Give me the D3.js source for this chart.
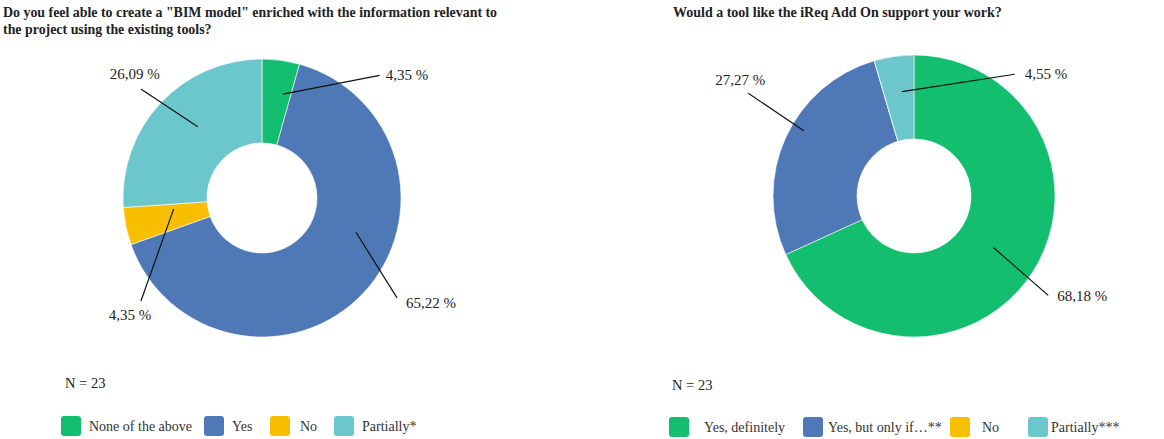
<!DOCTYPE html>
<html>
<head>
<meta charset="utf-8">
<script src="https://cdn.jsdelivr.net/npm/d3@7"></script>
<style>
  html, body { margin: 0; padding: 0; background: #fff; }
  svg { display: block; font-family: "Liberation Serif", "Times New Roman", serif; }
</style>
</head>
<body>
<svg id="chart" width="1164" height="439"></svg>
<script>
// ---------- DATA ----------
const leftTitle = ['Do you feel able to create a "BIM model" enriched with the information relevant to',
                   'the project using the existing tools?'];
const leftCategories = ["None of the above", "Yes", "No", "Partially*"];
const leftValues = [4.35, 65.22, 4.35, 26.09];
const leftLabels = ["4,35 %", "65,22 %", "4,35 %", "26,09 %"];
const leftN = "N = 23";

const rightTitle = ["Would a tool like the iReq Add On support your work?"];
const rightCategories = ["Yes, definitely", "Yes, but only if…**", "No", "Partially***"];
const rightValues = [68.18, 27.27, 0, 4.55];
const rightLabels = ["68,18 %", "27,27 %", "", "4,55 %"];
const rightN = "N = 23";

const colors = ["#13bf6f", "#4e79b6", "#f8bf00", "#6cc7cc"];

// ---------- LAYOUT ----------
// leader line start/end in polar coords (deg clockwise from top, radius), text offset
const leftLayout = {
  cx: 262, cy: 198, outer: 139, inner: 55,
  titleX: 3, titleY: 17, titleSize: 13.9, nX: 65, nY: 388,
  legendX: [61, 204, 270, 334], legendY: 416,
  legendTextDx: [28, 28, 30, 28],
  leaders: [
    { a0: 11.4, r0: 106, a1: 43.8, r1: 170, tx: 6, ty: 5, anchor: "start" },
    { a0: 110, r0: 100, a1: 126.5, r1: 168, tx: 9, ty: 10, anchor: "start" },
    { a0: 263, r0: 89, a1: 229.6, r1: 159, tx: -11, ty: 19, anchor: "middle" },
    { a0: 318, r0: 96, a1: 312, r1: 163, tx: -6, ty: -10, anchor: "middle" }
  ]
};
const rightLayout = {
  cx: 914, cy: 196, outer: 141, inner: 57,
  titleX: 673, titleY: 17, titleSize: 14, nX: 672, nY: 390,
  legendX: [669, 803, 950, 1028], legendY: 417,
  legendTextDx: [35, 25, 32, 23],
  leaders: [
    { a0: 123, r0: 95, a1: 126.5, r1: 167, tx: 9, ty: 6, anchor: "start" },
    { a0: 300.6, r0: 128, a1: 301.8, r1: 195, tx: -8, ty: -8, anchor: "middle" },
    null,
    { a0: 353.4, r0: 105, a1: 39.6, r1: 158, tx: 10, ty: 5, anchor: "start" }
  ]
};

const svg = d3.select("#chart");

function polar(cx, cy, deg, r) {
  const a = deg * Math.PI / 180;
  return [cx + r * Math.sin(a), cy - r * Math.cos(a)];
}

function drawDonut(values, labels, categories, title, nText, L) {
  const g = svg.append("g");
  const t = g.append("text")
    .attr("x", L.titleX).attr("y", L.titleY)
    .attr("font-weight", "bold").attr("font-size", L.titleSize).attr("fill", "#222");
  title.forEach((line, i) => {
    t.append("tspan").attr("x", L.titleX).attr("dy", i === 0 ? 0 : 17).text(line);
  });

  const pie = d3.pie().sort(null).value(d => d)
    .startAngle(0).endAngle(2 * Math.PI);
  const arcs = pie(values);
  const arc = d3.arc().innerRadius(L.inner).outerRadius(L.outer);

  const cg = g.append("g").attr("transform", `translate(${L.cx},${L.cy})`);
  cg.selectAll("path").data(arcs).join("path")
    .attr("d", arc)
    .attr("fill", (d, i) => colors[i])
    .attr("stroke", "#fff").attr("stroke-width", 0.6);

  L.leaders.forEach((ld, i) => {
    if (!ld || !labels[i]) return;
    const p0 = polar(L.cx, L.cy, ld.a0, ld.r0);
    const p1 = polar(L.cx, L.cy, ld.a1, ld.r1);
    g.append("line")
      .attr("x1", p0[0]).attr("y1", p0[1]).attr("x2", p1[0]).attr("y2", p1[1])
      .attr("stroke", "#111").attr("stroke-width", 1.2);
    g.append("text")
      .attr("x", p1[0] + ld.tx).attr("y", p1[1] + ld.ty)
      .attr("text-anchor", ld.anchor)
      .attr("font-size", 15).attr("fill", "#222")
      .text(labels[i]);
  });

  g.append("text").attr("x", L.nX).attr("y", L.nY)
    .attr("font-size", 14.5).attr("fill", "#222").text(nText);

  categories.forEach((c, i) => {
    const x = L.legendX[i];
    g.append("rect")
      .attr("x", x).attr("y", L.legendY).attr("width", 20).attr("height", 20)
      .attr("rx", 3).attr("ry", 3).attr("fill", colors[i]);
    g.append("text")
      .attr("x", x + L.legendTextDx[i]).attr("y", L.legendY + 15)
      .attr("font-size", 14).attr("fill", "#333").text(c);
  });
}

drawDonut(leftValues, leftLabels, leftCategories, leftTitle, leftN, leftLayout);
drawDonut(rightValues, rightLabels, rightCategories, rightTitle, rightN, rightLayout);
</script>
</body>
</html>
